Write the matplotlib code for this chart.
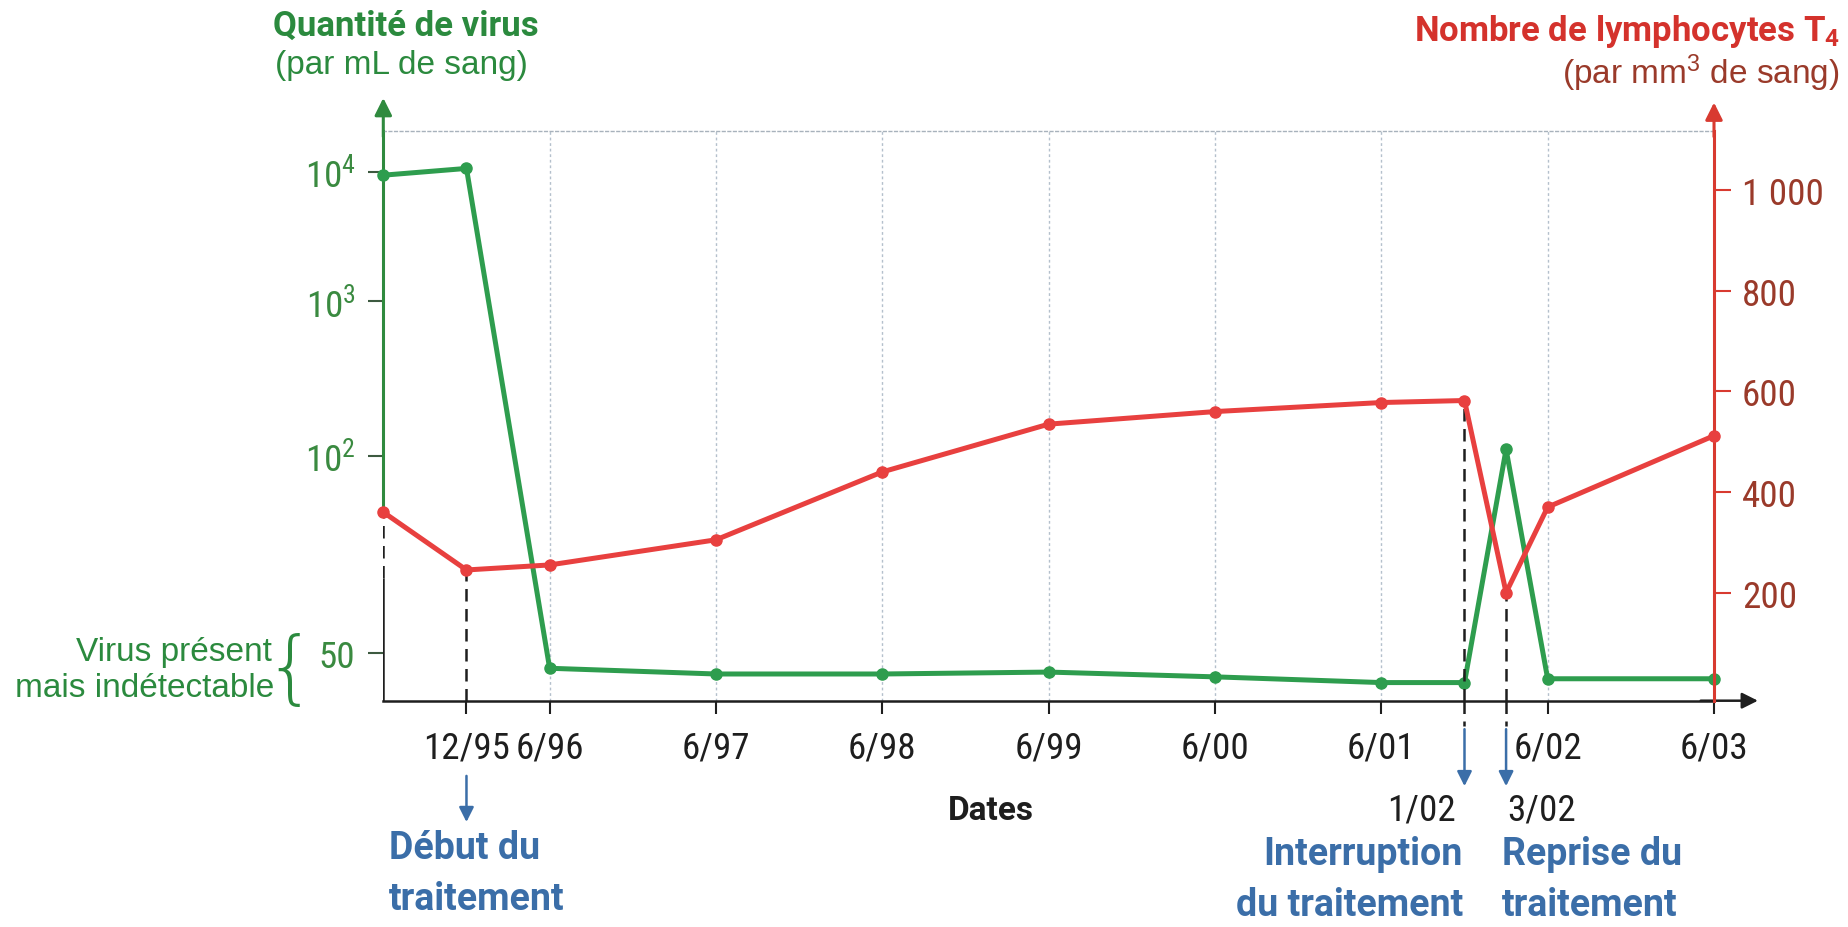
import os
import numpy as np
import matplotlib
matplotlib.use("Agg")
import matplotlib.pyplot as plt
from matplotlib import font_manager
from matplotlib.font_manager import FontProperties
from matplotlib.textpath import TextToPath
from matplotlib.transforms import blended_transform_factory

# ---------------- data ----------------
dates = [1995.5, 1996.0, 1996.5, 1997.5, 1998.5, 1999.5, 2000.5, 2001.5,
         2002.0, 2002.25, 2002.5, 2003.5]
virus = [9400, 10600, 34, 28, 28, 30, 25, 19, 19, 110, 23, 23]
lymphocytes_t4 = [360, 245, 255, 305, 440, 535, 560, 578, 582, 200, 370, 512]

date_ticks = [1996.0, 1996.5, 1997.5, 1998.5, 1999.5, 2000.5, 2001.5, 2002.5, 2003.5]
date_labels = ["12/95", "6/96", "6/97", "6/98", "6/99", "6/00", "6/01", "6/02", "6/03"]
grid_dates = [1996.5, 1997.5, 1998.5, 1999.5, 2000.5, 2001.5, 2002.5]

virus_ticks = [50, 100, 1000, 10000]
virus_labels = ["50", r"$\mathregular{10^2}$", r"$\mathregular{10^3}$", r"$\mathregular{10^4}$"]
t4_ticks = [200, 400, 600, 800, 1000]
t4_labels = ["200", "400", "600", "800", "1 000"]

# ---------------- font selection (match the reference text widths) ----------------
SANS = {"Liberation Sans Narrow", "Liberation Sans", "DejaVu Sans", "Roboto",
        "Roboto Condensed", "Open Sans", "Open Sans Condensed", "Lato", "Inter",
        "Noto Sans", "Noto Sans Condensed", "Noto Sans SemiCondensed",
        "Noto Sans ExtraCondensed", "Arimo", "DejaVu Sans Condensed"}
WMAP = {"normal": 400, "regular": 400, "book": 400, "bold": 700}


def wnum(w):
    if isinstance(w, (int, float)):
        return int(w)
    return WMAP.get(str(w).lower(), 0)


reg_files, bold_files, digit_files = [], [], []
for f in font_manager.fontManager.ttflist:
    low = f.fname.lower()
    base = os.path.basename(low)
    if "mono" in low or "mono" in f.name.lower() or f.style != "normal":
        continue
    if not low.endswith((".ttf", ".otf")):
        continue
    w = wnum(f.weight)
    in_sans = f.name in SANS
    condensed = any(k in base or k in f.name.lower() for k in ("condensed", "narrow"))
    if w == 400:
        if in_sans:
            reg_files.append(f.fname)
        if in_sans or (condensed and f.name.lower().startswith(("noto sans", "roboto",
                                                                  "open sans", "liberation",
                                                                  "dejavu sans"))):
            digit_files.append(f.fname)
    elif w == 700 and in_sans:
        bold_files.append(f.fname)

t2p = TextToPath()


def width_px(path, s, size):
    w, h, d = t2p.get_text_width_height_descent(s, FontProperties(fname=path, size=size),
                                                ismath=False)
    return w * 100 / 72


def pick(files, targets):
    best = None
    for p in files:
        try:
            ratios = [tw / width_px(p, s, sz) for s, sz, tw in targets]
        except Exception:
            continue
        err = np.mean(np.abs(np.log(ratios)))
        if best is None or err < best[0]:
            best = (err, p, float(np.exp(np.mean(np.log(ratios)))))
    return (None, 1.0) if best is None else (best[1], best[2])


REG_PATH, _ = pick(reg_files, [("mais indétectable", 24, 255), ("(par mL de sang)", 24, 252),
                               ("Virus présent", 24, 198)])
BOLD_PATH, _ = pick(bold_files, [("Quantité de virus", 25, 250), ("traitement", 27, 176),
                                 ("Interruption", 27, 193), ("Dates", 24, 94)])
DIG_PATH, DIG_S = pick(digit_files, [("12/95", 28, 84), ("6/96", 28, 67), ("1 000", 28, 90),
                                     ("6/03", 28, 66)])
DIG_S = float(np.clip(DIG_S, 0.85, 1.08))


def fp(size, bold=False):
    path = BOLD_PATH if bold else REG_PATH
    if path is None:
        return FontProperties(family="DejaVu Sans", size=size * 0.8,
                              weight="bold" if bold else "normal")
    return FontProperties(fname=path, size=size)


def fpd(size):
    if DIG_PATH is None:
        return fp(size * 0.87)
    return FontProperties(fname=DIG_PATH, size=size * DIG_S)


plt.rcParams["mathtext.fontset"] = "custom"

GREEN = "#2e9d4e"
GREEN_AX = "#2f8a3e"
GREEN_T = "#2b8a3e"
GREEN_LBL = "#3a8a40"
RED = "#e8403f"
RED_AX = "#d83a30"
RED_T = "#d4322c"
RED_LBL = "#9a3a2a"
BLUE = "#3b6ea8"
DARK = "#1e1e1e"

W, H = 1849, 928
fig = plt.figure(figsize=(W / 100, H / 100), dpi=100)
fig.patch.set_facecolor("white")


def fx(px):
    return px / W


def fy(py):
    return 1 - py / H


AX_L, AX_R, AX_T, AX_B = 383.3, 1714.0, 132.0, 701.7
ax = fig.add_axes([fx(AX_L), fy(AX_B), (AX_R - AX_L) / W, (AX_B - AX_T) / H])

# custom (broken) virus scale: linear below 50, piecewise log above
SEG_LOG = np.array([np.log10(50), 2.0, 3.0, 4.0, 5.0])
SEG_POS = np.array([47.7, 245.0, 399.4, 529.0, 658.6])


def v_fwd(v):
    v = np.asarray(v, dtype=float)
    lin = v * SEG_POS[0] / 50.0
    lg = np.interp(np.log10(np.clip(v, 1e-9, None)), SEG_LOG, SEG_POS)
    return np.where(v <= 50, lin, lg)


def v_inv(p):
    p = np.asarray(p, dtype=float)
    lin = p * 50.0 / SEG_POS[0]
    lg = 10 ** np.interp(p, SEG_POS, SEG_LOG)
    return np.where(p <= SEG_POS[0], lin, lg)


ax.set_yscale("function", functions=(v_fwd, v_inv))
ax.set_xlim(dates[0], date_ticks[-1])
ax.set_ylim(0, float(v_inv(AX_B - AX_T)))

ax2 = ax.twinx()
ax2.set_ylim(-15, 1118)

# grid lines
for g in grid_dates:
    ax.axvline(g, color="#b4c0cc", lw=1.0, ls=(0, (2, 2)), zorder=0)

# series
ax.plot(dates, virus, color=GREEN, lw=3.6, marker="o", ms=8, zorder=4, clip_on=False)
ax2.plot(dates, lymphocytes_t4, color=RED, lw=3.6, marker="o", ms=8, zorder=4, clip_on=False)

# spines
ax.spines["right"].set_visible(False)
ax.spines["top"].set_linestyle((0, (2, 2)))
ax.spines["top"].set_color("#a8b2bc")
ax.spines["top"].set_linewidth(1.0)
ax.spines["bottom"].set_color(DARK)
ax.spines["bottom"].set_linewidth(1.8)
ax.spines["left"].set_color(GREEN_AX)
ax.spines["left"].set_linewidth(2.2)
for s in ["left", "top", "bottom"]:
    ax2.spines[s].set_visible(False)
ax2.spines["right"].set_color(RED_AX)
ax2.spines["right"].set_linewidth(2.2)

# left spine green only above the first T4 point
ydisp = ax2.transData.transform((dates[0], lymphocytes_t4[0]))[1]
yleft = ax.transData.inverted().transform((0, ydisp))[1]
ax.spines["left"].set_bounds(yleft, ax.get_ylim()[1])
ax2.vlines(dates[0], 230, lymphocytes_t4[0], colors=DARK, linestyles=(0, (5, 3)), lw=1.8, zorder=3)
ax2.vlines(dates[0], ax2.get_ylim()[0], 230, colors=DARK, lw=1.8, zorder=3)

# ticks
ax.set_xticks(date_ticks, date_labels)
ax.tick_params(axis="x", direction="out", length=9, width=1.5, color=DARK, pad=12,
               labelcolor=DARK)
for lbl in ax.get_xticklabels():
    lbl.set_fontproperties(fpd(28))
ax.set_yticks(virus_ticks, virus_labels)
ax.minorticks_off()
ax.tick_params(axis="y", direction="out", length=11, width=1.5, color="#3d5a40", pad=9,
               labelcolor=GREEN_LBL)
for lbl in ax.get_yticklabels():
    lbl.set_fontproperties(fpd(28))
ax2.set_yticks(t4_ticks, t4_labels)
ax2.tick_params(axis="y", direction="out", length=12, width=1.5, color=RED_AX, pad=8,
                labelcolor=RED_LBL)
for lbl in ax2.get_yticklabels():
    lbl.set_fontproperties(fpd(28))

# axis arrows
ax.annotate("", xy=(0, 1.058), xytext=(0, 0.99), xycoords="axes fraction",
            arrowprops=dict(arrowstyle="-|>", color=GREEN_AX, lw=2.2, mutation_scale=26,
                            shrinkA=0, shrinkB=0))
ax.annotate("", xy=(1, 1.05), xytext=(1, 0.99), xycoords="axes fraction",
            arrowprops=dict(arrowstyle="-|>", color=RED_AX, lw=2.2, mutation_scale=26,
                            shrinkA=0, shrinkB=0))
ax.annotate("", xy=(1.033, 0), xytext=(0.99, 0), xycoords="axes fraction",
            arrowprops=dict(arrowstyle="-|>", color=DARK, lw=1.8, mutation_scale=24,
                            shrinkA=0, shrinkB=0))

# event dashed lines and arrows
trans = blended_transform_factory(ax.transData, ax.transAxes)
i_start, i_stop, i_resume = 1, 8, 9
for i in (i_start, i_stop, i_resume):
    ax2.vlines(dates[i], ax2.get_ylim()[0], lymphocytes_t4[i], colors=DARK,
               linestyles=(0, (5, 3)), lw=1.8, zorder=3)
for i in (i_stop, i_resume):
    ax.plot([dates[i], dates[i]], [0, -0.045], transform=trans, clip_on=False,
            color=DARK, ls=(0, (5, 3)), lw=1.8)
    ax.annotate("", xy=(dates[i], -0.15), xytext=(dates[i], -0.05),
                xycoords=trans, textcoords=trans,
                arrowprops=dict(arrowstyle="-|>", color=BLUE, lw=1.8, mutation_scale=22,
                                shrinkA=0, shrinkB=0))
ax.annotate("", xy=(dates[i_start], -0.213), xytext=(dates[i_start], -0.132),
            xycoords=trans, textcoords=trans,
            arrowprops=dict(arrowstyle="-|>", color=BLUE, lw=1.8, mutation_scale=22,
                            shrinkA=0, shrinkB=0))

# titles
fig.text(fx(273), fy(36), "Quantité de virus", color=GREEN_T, fontproperties=fp(25, True),
         va="baseline", ha="left")
fig.text(fx(275), fy(74), "(par mL de sang)", color=GREEN_T, fontproperties=fp(24),
         va="baseline", ha="left")
fig.text(fx(1840), fy(41), r"Nombre de lymphocytes T$\mathregular{_4}$", color=RED_T,
         fontproperties=fp(25, True), va="baseline", ha="right")
fig.text(fx(1840), fy(84), r"(par mm$\mathregular{^3}$ de sang)", color=RED_LBL,
         fontproperties=fp(24), va="baseline", ha="right")

# left annotation
fig.text(fx(272), fy(653), "Virus présent", color=GREEN_T, fontproperties=fp(24),
         va="center", ha="right")
fig.text(fx(274), fy(689), "mais indétectable", color=GREEN_T, fontproperties=fp(24),
         va="center", ha="right")
fig.text(fx(290), fy(672), "{", color=GREEN_T, fontsize=58, va="center", ha="center",
         family=["DejaVu Sans"], fontweight="light")

# bottom texts
fig.text(fx(991), fy(811), "Dates", color=DARK, fontproperties=fp(24, True),
         va="center", ha="center")
fig.text(fx(1456), fy(811), "1/02", color=DARK, fontproperties=fpd(28), va="center", ha="right")
fig.text(fx(1507), fy(811), "3/02", color=DARK, fontproperties=fpd(28), va="center", ha="left")
fig.text(fx(389), fy(830), "Début du\ntraitement", color=BLUE, fontproperties=fp(27, True),
         va="top", ha="left", linespacing=1.5)
fig.text(fx(1463), fy(836), "Interruption\ndu traitement", color=BLUE,
         fontproperties=fp(27, True), va="top", ha="right", multialignment="right",
         linespacing=1.5)
fig.text(fx(1502), fy(836), "Reprise du\ntraitement", color=BLUE, fontproperties=fp(27, True),
         va="top", ha="left", linespacing=1.5)

fig.savefig("out.png", dpi=100, facecolor="white")
